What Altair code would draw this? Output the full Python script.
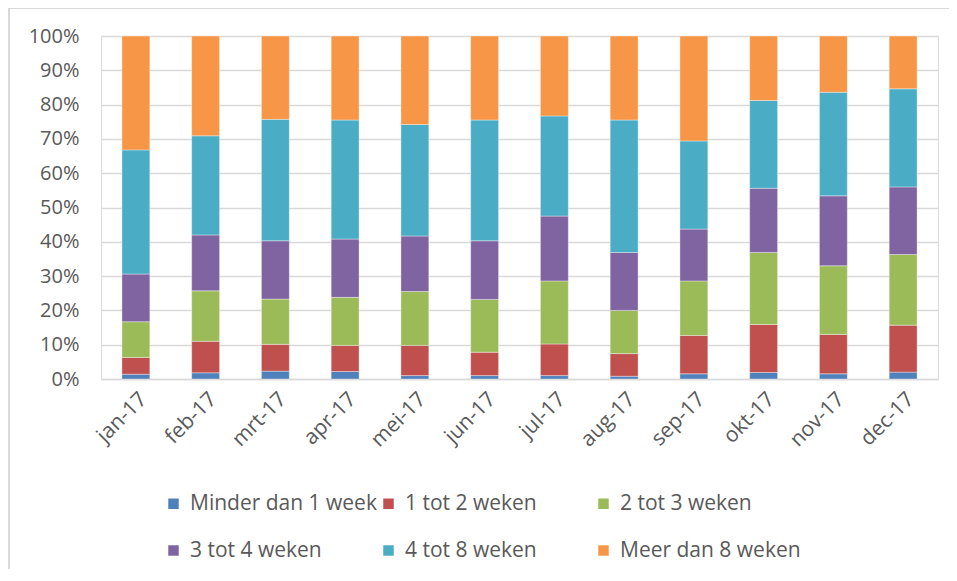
import altair as alt
import pandas as pd

months = ["jan-17", "feb-17", "mrt-17", "apr-17", "mei-17", "jun-17",
          "jul-17", "aug-17", "sep-17", "okt-17", "nov-17", "dec-17"]
categories = ["Minder dan 1 week", "1 tot 2 weken", "2 tot 3 weken",
              "3 tot 4 weken", "4 tot 8 weken", "Meer dan 8 weken"]
colors = ["#4F81BD", "#C0504D", "#9BBB59", "#8064A2", "#4BACC6", "#F79646"]

minder_1 = [1.4, 1.8, 2.3, 2.2, 1.0, 1.0, 1.0, 0.8, 1.5, 1.9, 1.5, 2.0]
w1_2 = [4.9, 9.2, 7.8, 7.6, 8.8, 6.8, 9.2, 6.6, 11.2, 14.0, 11.5, 13.7]
w2_3 = [10.4, 14.7, 13.2, 14.0, 15.7, 15.4, 18.4, 12.6, 15.9, 21.0, 20.0, 20.6]
w3_4 = [13.9, 16.3, 17.0, 17.0, 16.2, 17.1, 18.9, 16.9, 15.1, 18.7, 20.4, 19.7]
w4_8 = [36.2, 28.9, 35.4, 34.7, 32.5, 35.2, 29.2, 38.6, 25.7, 25.6, 30.2, 28.6]
meer_8 = [33.2, 29.1, 24.3, 24.5, 25.8, 24.5, 23.3, 24.5, 30.6, 18.8, 16.4, 15.4]

series = [minder_1, w1_2, w2_3, w3_4, w4_8, meer_8]
rows = []
for ci, (cat, vals) in enumerate(zip(categories, series)):
    for m, v in zip(months, vals):
        rows.append({"maand": m, "categorie": cat, "waarde": v, "volgorde": ci})
df = pd.DataFrame(rows)

FONT = "Open Sans"
TXT = "#595959"
GRID = "#d9d9d9"

bars = alt.Chart(df).mark_bar(stroke="white", strokeWidth=0.6, strokeOpacity=0.6).encode(
    x=alt.X("maand:N", sort=months, title=None,
            scale=alt.Scale(paddingInner=0.6, paddingOuter=0.3),
            axis=alt.Axis(labelAngle=-45, labelFontSize=21, labelColor=TXT, labelFont=FONT,
                          ticks=False, domainColor=GRID, domainWidth=1.5, labelPadding=9,
                          grid=False)),
    y=alt.Y("waarde:Q", stack="normalize", title=None,
            scale=alt.Scale(domain=[0, 1]),
            axis=alt.Axis(format="%", values=[i / 10 for i in range(11)], labelFontSize=20,
                          labelColor=TXT, labelFont=FONT, ticks=False, domain=False,
                          gridColor=GRID, gridWidth=1.5, labelPadding=22)),
    color=alt.Color("categorie:N", sort=categories,
                    scale=alt.Scale(domain=categories, range=colors),
                    legend=alt.Legend(title=None, orient="none", legendX=62, legendY=457,
                                      columns=3, direction="horizontal", symbolType="square",
                                      symbolSize=110, symbolStrokeWidth=0, labelFontSize=21,
                                      labelFont=FONT, labelColor=TXT, labelLimit=400,
                                      labelOffset=6, columnPadding=1, rowPadding=25,
                                      gridAlign="all", padding=0)),
    order=alt.Order("volgorde:Q", sort="ascending"),
)

frame_left = alt.Chart(df).mark_rule(color=GRID, strokeWidth=2).encode(
    x=alt.value(-92), y=alt.value(-28), y2=alt.value(560))
frame_top = alt.Chart(df).mark_rule(color=GRID, strokeWidth=2).encode(
    x=alt.value(-92), x2=alt.value(900), y=alt.value(-28))

chart = alt.layer(frame_left, frame_top, bars).properties(
    width=837, height=343,
    autosize=alt.AutoSizeParams(type="none"),
    padding={"left": 93, "top": 28, "right": 11, "bottom": 190},
).configure_view(stroke=None).configure(font=FONT)

chart.save("out.html", embed_options={"renderer": "svg", "actions": False})
